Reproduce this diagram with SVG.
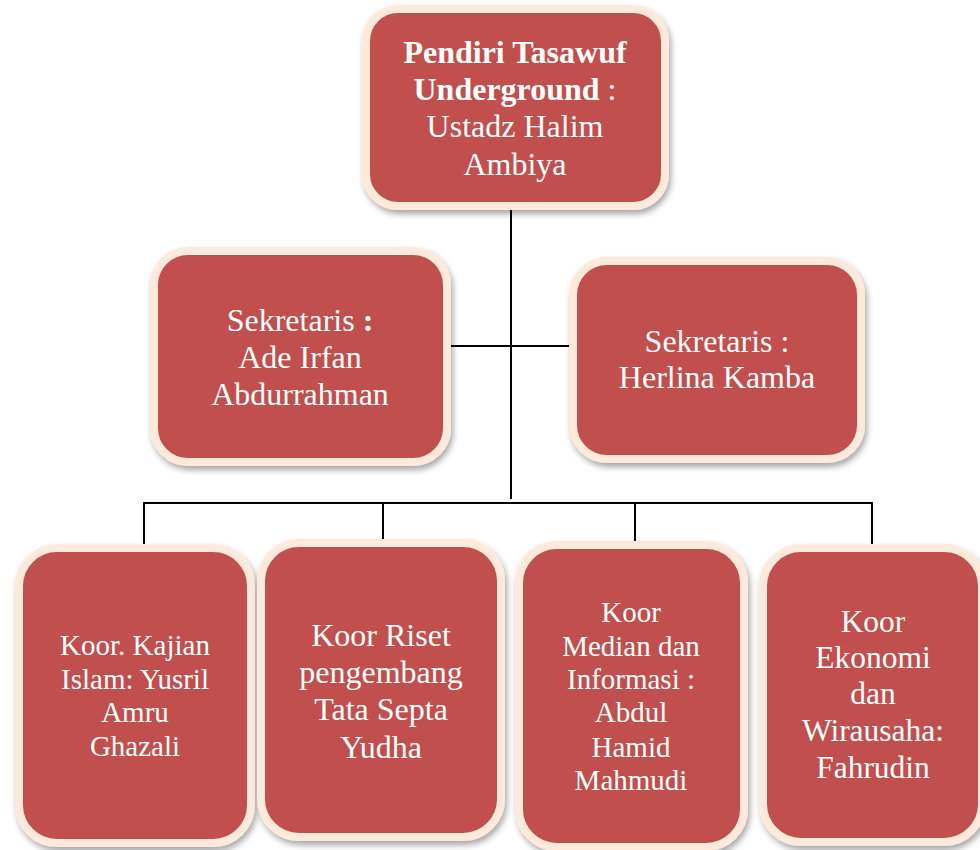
<svg xmlns="http://www.w3.org/2000/svg" width="980" height="850" viewBox="0 0 980 850">
<defs>
<filter id="sh" x="-10%" y="-10%" width="125%" height="125%">
<feDropShadow dx="2" dy="4" stdDeviation="3" flood-color="#000" flood-opacity="0.35"/>
</filter>
<style>
.box{fill:#C0504D;stroke:#FDEADA;stroke-width:8;filter:url(#sh)}
.t{font-family:"Liberation Serif","Times New Roman",serif;fill:#fff;text-anchor:middle}
.b{font-weight:bold}
.line{stroke:#000;stroke-width:2;fill:none}
</style>
</defs>
<rect width="980" height="850" fill="#fff"/>
<g id="connectors">
<line class="line" x1="511" y1="208" x2="511" y2="499"/>
<line class="line" x1="450" y1="346" x2="577" y2="346"/>
<line class="line" x1="143" y1="503" x2="873" y2="503"/>
<line class="line" x1="144" y1="502" x2="144" y2="544"/>
<line class="line" x1="383" y1="502" x2="383" y2="543"/>
<line class="line" x1="635" y1="502" x2="635" y2="545"/>
<line class="line" x1="872" y1="502" x2="872" y2="545"/>
</g>
<g id="pendiri">
<rect class="box" x="366" y="9" width="299" height="197" rx="32"/>
<text class="t" font-size="32"><tspan class="b" x="515" y="63">Pendiri Tasawuf</tspan><tspan x="515" y="100"><tspan class="b">Underground</tspan> :</tspan><tspan x="515" y="137">Ustadz Halim</tspan><tspan x="515" y="175">Ambiya</tspan></text>
</g>
<g id="sekretaris1">
<rect class="box" x="154" y="251" width="293" height="211" rx="34"/>
<text class="t" font-size="32"><tspan x="300" y="331">Sekretaris <tspan class="b">:</tspan></tspan><tspan x="300" y="368">Ade Irfan</tspan><tspan x="300" y="405">Abdurrahman</tspan></text>
</g>
<g id="sekretaris2">
<rect class="box" x="573" y="261" width="288" height="198" rx="34"/>
<text class="t" font-size="32"><tspan x="717" y="352">Sekretaris :</tspan><tspan x="717" y="388">Herlina Kamba</tspan></text>
</g>
<g id="koor1">
<rect class="box" x="19" y="548" width="232" height="295" rx="38"/>
<text class="t" font-size="29"><tspan x="135" y="655">Koor. Kajian</tspan><tspan x="135" y="689">Islam: Yusril</tspan><tspan x="135" y="722">Amru</tspan><tspan x="135" y="756">Ghazali</tspan></text>
</g>
<g id="koor2">
<rect class="box" x="261" y="543" width="240" height="294" rx="38"/>
<text class="t" font-size="32"><tspan x="381" y="646">Koor Riset</tspan><tspan x="381" y="683">pengembang</tspan><tspan x="381" y="720">Tata Septa</tspan><tspan x="381" y="758">Yudha</tspan></text>
</g>
<g id="koor3">
<rect class="box" x="519" y="545" width="225" height="302" rx="38"/>
<text class="t" font-size="29"><tspan x="631" y="622">Koor</tspan><tspan x="631" y="656">Median dan</tspan><tspan x="631" y="689">Informasi :</tspan><tspan x="631" y="722">Abdul</tspan><tspan x="631" y="757">Hamid</tspan><tspan x="631" y="790">Mahmudi</tspan></text>
</g>
<g id="koor4">
<rect class="box" x="763" y="548" width="219" height="294" rx="38"/>
<text class="t" font-size="31.5"><tspan x="873" y="632">Koor</tspan><tspan x="873" y="668">Ekonomi</tspan><tspan x="873" y="704">dan</tspan><tspan x="873" y="741">Wirausaha:</tspan><tspan x="873" y="778">Fahrudin</tspan></text>
</g>
</svg>
